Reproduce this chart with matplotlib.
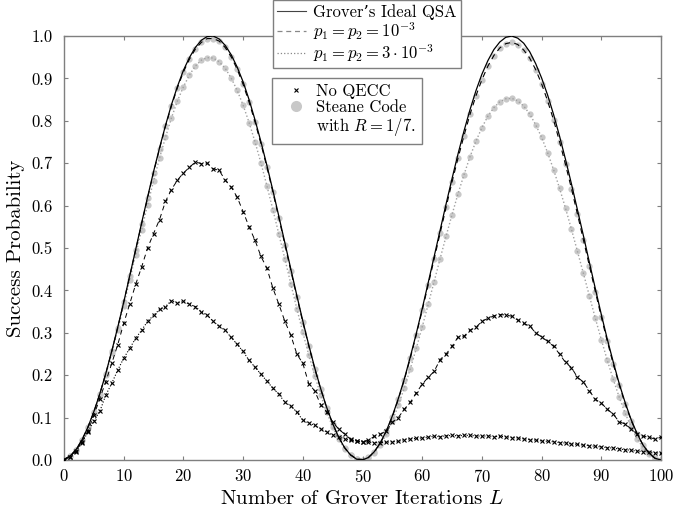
import matplotlib
matplotlib.use('Agg')
import matplotlib.pyplot as plt
from matplotlib.lines import Line2D

# Grover iterations L = 0..100
iters = list(range(0, 101))

ideal = [0.001, 0.009, 0.024, 0.047, 0.077, 0.114, 0.156, 0.204, 0.257, 0.313,
         0.372, 0.434, 0.496, 0.559, 0.620, 0.680, 0.736, 0.789, 0.838, 0.881,
         0.919, 0.949, 0.973, 0.990, 0.999, 1.000, 0.993, 0.978, 0.956, 0.927,
         0.892, 0.850, 0.802, 0.750, 0.694, 0.635, 0.574, 0.512, 0.450, 0.388,
         0.328, 0.271, 0.217, 0.168, 0.124, 0.086, 0.054, 0.029, 0.012, 0.002,
         0.000, 0.006, 0.020, 0.041, 0.069, 0.104, 0.145, 0.191, 0.243, 0.298,
         0.357, 0.418, 0.480, 0.542, 0.604, 0.664, 0.722, 0.776, 0.826, 0.871,
         0.910, 0.942, 0.968, 0.986, 0.997, 1.000, 0.995, 0.983, 0.963, 0.935,
         0.901, 0.861, 0.815, 0.764, 0.709, 0.651, 0.590, 0.529, 0.466, 0.404,
         0.343, 0.285, 0.231, 0.180, 0.135, 0.095, 0.062, 0.035, 0.016, 0.004,
         0.000]

# Steane code, p1 = p2 = 1e-3
qec_1e3 = [0.001, 0.009, 0.024, 0.047, 0.077, 0.113, 0.156, 0.204, 0.256, 0.312,
           0.372, 0.433, 0.495, 0.557, 0.618, 0.678, 0.734, 0.787, 0.835, 0.878,
           0.915, 0.945, 0.969, 0.985, 0.994, 0.994, 0.988, 0.973, 0.951, 0.922,
           0.886, 0.844, 0.797, 0.745, 0.690, 0.631, 0.570, 0.508, 0.446, 0.385,
           0.325, 0.269, 0.215, 0.167, 0.123, 0.085, 0.054, 0.029, 0.012, 0.003,
           0.001, 0.006, 0.020, 0.040, 0.068, 0.102, 0.143, 0.189, 0.240, 0.295,
           0.353, 0.413, 0.474, 0.535, 0.596, 0.656, 0.712, 0.765, 0.815, 0.859,
           0.897, 0.929, 0.954, 0.972, 0.982, 0.985, 0.980, 0.967, 0.948, 0.921,
           0.887, 0.847, 0.802, 0.751, 0.697, 0.640, 0.580, 0.519, 0.458, 0.397,
           0.337, 0.280, 0.226, 0.177, 0.132, 0.093, 0.061, 0.035, 0.016, 0.004,
           0.001]

# Steane code, p1 = p2 = 3e-3
qec_3e3 = [0.001, 0.009, 0.024, 0.047, 0.076, 0.112, 0.154, 0.201, 0.252, 0.307,
           0.364, 0.424, 0.484, 0.543, 0.602, 0.658, 0.712, 0.761, 0.807, 0.847,
           0.880, 0.908, 0.929, 0.943, 0.949, 0.948, 0.939, 0.924, 0.901, 0.872,
           0.837, 0.796, 0.750, 0.700, 0.646, 0.590, 0.532, 0.474, 0.415, 0.357,
           0.301, 0.248, 0.199, 0.153, 0.113, 0.078, 0.049, 0.027, 0.011, 0.002,
           0.001, 0.005, 0.017, 0.036, 0.061, 0.092, 0.129, 0.170, 0.215, 0.263,
           0.314, 0.367, 0.421, 0.475, 0.528, 0.579, 0.628, 0.673, 0.715, 0.752,
           0.784, 0.811, 0.831, 0.845, 0.852, 0.853, 0.847, 0.835, 0.816, 0.791,
           0.761, 0.725, 0.685, 0.641, 0.594, 0.544, 0.492, 0.440, 0.387, 0.334,
           0.284, 0.235, 0.190, 0.148, 0.110, 0.078, 0.050, 0.029, 0.013, 0.003,
           0.001]

# no QECC, p1 = p2 = 1e-3
raw_1e3 = [0.001, 0.008, 0.022, 0.043, 0.068, 0.105, 0.145, 0.185, 0.228, 0.272,
           0.322, 0.368, 0.414, 0.455, 0.500, 0.534, 0.567, 0.610, 0.638, 0.660,
           0.677, 0.690, 0.703, 0.699, 0.700, 0.687, 0.683, 0.660, 0.644, 0.620,
           0.586, 0.550, 0.518, 0.480, 0.452, 0.405, 0.367, 0.327, 0.294, 0.250,
           0.228, 0.180, 0.163, 0.130, 0.113, 0.090, 0.073, 0.061, 0.049, 0.045,
           0.042, 0.047, 0.056, 0.061, 0.068, 0.089, 0.100, 0.120, 0.136, 0.158,
           0.179, 0.195, 0.209, 0.237, 0.250, 0.268, 0.290, 0.292, 0.306, 0.313,
           0.327, 0.334, 0.340, 0.343, 0.342, 0.339, 0.330, 0.322, 0.316, 0.300,
           0.290, 0.280, 0.268, 0.250, 0.230, 0.218, 0.195, 0.184, 0.163, 0.143,
           0.134, 0.120, 0.108, 0.090, 0.085, 0.073, 0.061, 0.056, 0.054, 0.049,
           0.054]

# no QECC, p1 = p2 = 3e-3
raw_3e3 = [0.001, 0.008, 0.020, 0.040, 0.066, 0.092, 0.115, 0.153, 0.181, 0.212,
           0.240, 0.263, 0.287, 0.306, 0.327, 0.341, 0.355, 0.362, 0.376, 0.370,
           0.374, 0.367, 0.362, 0.350, 0.341, 0.327, 0.315, 0.306, 0.289, 0.273,
           0.256, 0.235, 0.219, 0.202, 0.186, 0.169, 0.155, 0.136, 0.127, 0.113,
           0.094, 0.087, 0.082, 0.073, 0.066, 0.059, 0.055, 0.050, 0.047, 0.045,
           0.043, 0.042, 0.041, 0.041, 0.042, 0.043, 0.044, 0.048, 0.050, 0.051,
           0.052, 0.054, 0.056, 0.055, 0.057, 0.058, 0.057, 0.058, 0.058, 0.057,
           0.056, 0.057, 0.055, 0.056, 0.055, 0.053, 0.052, 0.050, 0.048, 0.047,
           0.045, 0.044, 0.043, 0.041, 0.040, 0.038, 0.037, 0.035, 0.034, 0.032,
           0.031, 0.029, 0.028, 0.026, 0.024, 0.023, 0.021, 0.020, 0.019, 0.017,
           0.016]

xticks = [0, 10, 20, 30, 40, 50, 60, 70, 80, 90, 100]
yticks = [0.0, 0.1, 0.2, 0.3, 0.4, 0.5, 0.6, 0.7, 0.8, 0.9, 1.0]

GREY = '#c8c8c8'
FRAME = '#7f7f7f'


def main():
	plt.rcParams['font.family'] = ['cmr10', 'DejaVu Serif']
	plt.rcParams['mathtext.fontset'] = 'cm'
	plt.rcParams['axes.unicode_minus'] = False
	plt.rcParams['axes.formatter.use_mathtext'] = True

	fig = plt.figure(figsize=(6.75, 5.11), dpi=100)
	ax = fig.add_axes([0.0948, 0.0998, 0.8845, 0.8297])

	# steane code dots sit under the lines
	ax.plot(iters, qec_1e3, 'o', color=GREY, ms=4.5, mec='none', zorder=1)
	ax.plot(iters, qec_3e3, 'o', color=GREY, ms=4.5, mec='none', zorder=1)
	ax.plot(iters, qec_3e3, ':', color='#a0a0a0', lw=1.0, zorder=2)

	ax.plot(iters, ideal, '-', color='black', lw=0.9, zorder=3)
	ax.plot(iters, qec_1e3, '--', color='black', lw=0.8, dashes=(5, 4), zorder=3)

	ax.plot(iters, raw_1e3, '--', color='black', lw=0.7, dashes=(5, 4), zorder=3)
	ax.plot(iters, raw_1e3, 'x', color='black', ms=3, mew=0.8, zorder=4)
	ax.plot(iters, raw_3e3, ':', color='black', lw=0.8, zorder=3)
	ax.plot(iters, raw_3e3, 'x', color='black', ms=3, mew=0.8, zorder=4)

	ax.set_xlim(0, 100)
	ax.set_ylim(0, 1.0)
	ax.set_xticks(xticks)
	ax.set_yticks(yticks)
	ax.set_yticklabels(['%.1f' % v for v in yticks])
	ax.tick_params(direction='in', length=3, color=FRAME, labelsize=12,
	               top=True, right=True)
	ax.tick_params(axis='x', pad=6)
	ax.tick_params(axis='y', pad=8)
	for s in ax.spines.values():
		s.set_color(FRAME)
		s.set_linewidth(1.0)

	ax.set_xlabel(r'Number of Grover Iterations $L$', fontsize=15, labelpad=3)
	ax.set_ylabel('Success Probability', fontsize=15, labelpad=5)

	h1 = [Line2D([], [], color='#444444', lw=0.8, ls='-'),
	      Line2D([], [], color='#888888', lw=0.9, ls='--', dashes=(4, 3)),
	      Line2D([], [], color='#888888', lw=0.9, ls=':')]
	lab1 = [u'Grover\u2019s Ideal QSA',
	        r'$p_1 = p_2 = 10^{-3}$',
	        r'$p_1 = p_2 = 3 \cdot 10^{-3}$']
	leg1 = fig.legend(h1, lab1, loc='upper left', bbox_to_anchor=(273 / 675, 1.0),
	                  fontsize=12, fancybox=False, framealpha=1, edgecolor=FRAME,
	                  handlelength=1.75, labelspacing=0.0, borderpad=0.25,
	                  handletextpad=0.42, borderaxespad=0)
	leg1.get_frame().set_linewidth(1.0)

	h2 = [Line2D([], [], color='black', ls='none', marker='x', ms=3.5, mew=0.8),
	      Line2D([], [], color=GREY, ls='none', marker='o', ms=8, mec='none'),
	      Line2D([], [], ls='none', marker='none')]
	lab2 = ['No QECC', 'Steane Code', 'with $R = 1/7$.']
	leg2 = fig.legend(h2, lab2, loc='upper left', bbox_to_anchor=(272 / 675, 1 - 78 / 511),
	                  fontsize=12, fancybox=False, framealpha=1, edgecolor=FRAME,
	                  handlelength=2.2, labelspacing=0.05, borderpad=0.35,
	                  handletextpad=0.12, borderaxespad=0)
	leg2.get_frame().set_linewidth(1.0)

	fig.savefig('out.png', dpi=100)


if __name__ == '__main__':
	main()
